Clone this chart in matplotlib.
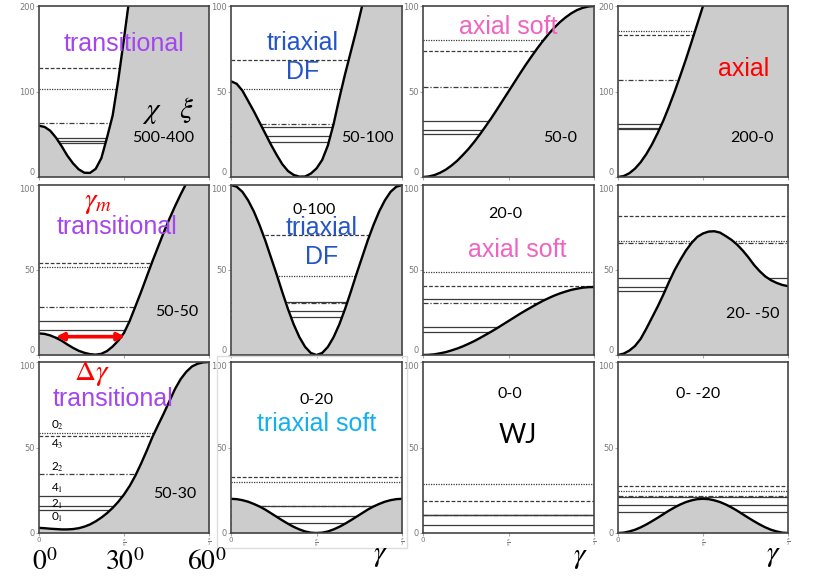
import numpy as np
import matplotlib
matplotlib.use('Agg')
import matplotlib.pyplot as plt
from matplotlib.patches import Rectangle

plt.rcParams['mathtext.fontset'] = 'stix'

####################################################################################################
# potential curves V(gamma), every 2 degrees

gamma_deg = [0, 2, 4, 6, 8, 10, 12, 14, 16, 18, 20, 22, 24, 26, 28, 30,
             32, 34, 36, 38, 40, 42, 44, 46, 48, 50, 52, 54, 56, 58, 60]

v_500_400 = [60, 58.5, 54, 46, 36, 25, 16, 9, 5, 4.8, 9.5, 22, 46, 72, 114, 162,
             212, 265, 320, 378, 440, 500, 560, 620, 680, 740, 800, 860, 920, 980, 1040]
v_50_100 = [56, 54.5, 50.5, 44.5, 38.5, 32, 25.5, 19, 13, 7.5, 3.5, 1.2, 0.2, 0.3, 2, 5,
            10, 18.5, 31, 46, 60, 73, 86, 100, 114, 128, 141, 154, 167, 179, 190]
v_50_0 = [0, 0.3, 1.1, 2.5, 4.3, 6.7, 9.5, 12.9, 16.5, 20.6, 25, 29.7, 34.5, 39.6, 44.8, 50,
          55.2, 60.4, 65.5, 70.3, 75, 79.4, 83.5, 87.2, 90.5, 93.3, 95.7, 97.6, 98.9, 99.7, 100]
v_200_0 = [0, 1.1, 4.4, 9.8, 17.3, 26.8, 38.2, 51.4, 66, 82.4, 100, 118.7, 138, 158.4, 179.2, 200,
           221, 241.6, 262, 281, 300, 317.6, 334, 348.6, 361.8, 373.2, 382.8, 390.2, 395.6, 398.9, 400]

v_50_50 = [12.7, 12.4, 11.5, 10.1, 8.4, 6.2, 4.2, 2.5, 1.3, 0.5, 0.2, 0.7, 2.3, 5, 8.5, 13,
           20, 28.5, 37, 46, 55, 63.5, 72, 80, 87.5, 94.5, 101, 107, 112, 116, 119]
v_0_100 = [100, 99, 96, 91, 84.5, 76.5, 67.5, 57.5, 47.5, 37, 27, 18, 10.5, 4.8, 1.2, 0,
           1.2, 4.8, 10.5, 18, 27, 37, 47.5, 57.5, 67.5, 76.5, 84.5, 91, 96, 99, 100]
v_20_0 = [0, 0.1, 0.4, 1, 1.7, 2.7, 3.8, 5.1, 6.6, 8.2, 10, 11.9, 13.8, 15.8, 17.9, 20,
          22.1, 24.2, 26.2, 28.1, 30, 31.8, 33.4, 34.9, 36.2, 37.3, 38.3, 39, 39.6, 39.9, 40]
v_20_m50 = [0, 0.8, 2.6, 5.3, 9.5, 15.5, 22, 28.5, 35.5, 43, 50, 56, 61.5, 66, 69.5, 71.5,
            72.6, 72.8, 72, 70, 67.8, 65, 61.5, 57.5, 53, 49.3, 46.2, 44, 42.4, 41.2, 40.5]

v_50_30 = [3, 2.8, 2.5, 2.3, 2.1, 2.1, 2.3, 2.8, 3.7, 5, 6.8, 9, 11.6, 14.7, 18.3, 22.5,
           27.5, 33.5, 40.5, 48, 56, 63, 69.8, 77, 84.2, 90, 94.3, 97.4, 99, 99.8, 100]
v_0_20 = [20, 19.8, 19.2, 18.3, 17, 15.5, 13.7, 11.6, 9.5, 7.4, 5.4, 3.6, 2.1, 0.9, 0.2, 0,
          0.2, 0.9, 2.1, 3.6, 5.4, 7.4, 9.5, 11.6, 13.7, 15.5, 17, 18.3, 19.2, 19.8, 20]
v_0_0 = None
v_0_m20 = [0, 0.2, 0.9, 1.9, 3.3, 5, 6.9, 8.9, 11, 13.1, 15, 16.7, 18.1, 19.1, 19.8, 20,
           19.8, 19.1, 18.1, 16.7, 15, 13.1, 11, 8.9, 6.9, 5, 3.3, 1.9, 0.9, 0.2, 0]

# levels in the order 0_1, 2_1, 4_1, 2_2, 4_3, 0_2
level_names = ['0$_1$', '2$_1$', '4$_1$', '2$_2$', '4$_3$', '0$_2$']
lev_500_400 = [40, 42, 46, 63, 128, 103]
lev_50_100 = [20.5, 23.8, 29.5, 31, 68.5, 51.5]
lev_50_0 = [25, 27.7, 33, 52.7, 73.4, 80]
lev_200_0 = [56, 57.5, 62.5, 113.7, 166.4, 170.7]
lev_50_50 = [10.8, 14.7, 20.2, 28.4, 54, 51.6]
lev_0_100 = [22.5, 25.8, 31.3, 30.3, 70.5, 46.4]
lev_20_0 = [13.7, 16.6, 32.9, 30.5, 40.7, 49.1]
lev_20_m50 = [37.8, 39.9, 45.3, 65.8, 81.5, 66.8]
lev_50_30 = [13.7, 15.9, 21.8, 34.5, 56.7, 58.2]
lev_0_20 = [6, 9.9, 15.5, 15.8, 33, 29.7]
lev_0_0 = [4.5, 10.4, 10.6, 10.5, 18.7, 28.7]
lev_0_m20 = [12.3, 16.2, 21.2, 21.6, 27.7, 24.8]

y_max = [[200, 100, 100, 200], [100, 100, 100, 100], [100, 100, 100, 100]]
params = [['500-400', '50-100', '50-0', '200-0'],
          ['50-50', '0-100', '20-0', '20- -50'],
          ['50-30', '0-20', '0-0', '0- -20']]
shapes = [['transitional', 'triaxial\nDF', 'axial soft', 'axial'],
          ['transitional', 'triaxial\nDF', 'axial soft', ''],
          ['transitional', 'triaxial soft', 'WJ', '']]

arrow_gamma = [6, 30.4]
arrow_level = 10.8

####################################################################################################

curves = [[v_500_400, v_50_100, v_50_0, v_200_0],
          [v_50_50, v_0_100, v_20_0, v_20_m50],
          [v_50_30, v_0_20, v_0_0, v_0_m20]]
levels = [[lev_500_400, lev_50_100, lev_50_0, lev_200_0],
          [lev_50_50, lev_0_100, lev_20_0, lev_20_m50],
          [lev_50_30, lev_0_20, lev_0_0, lev_0_m20]]

level_styles = ['-', '-', '-', (0, (4, 1.5, 1, 1.5)), (0, (3, 1.5)), (0, (1, 1))]
# vertical shift of each level name from its line (data units)
name_shift = [-4.3, 1.2, 4.5, 4.1, -4.7, 4.8]
shape_colors = {'transitional': '#a445ee', 'triaxial\nDF': '#2456c8', 'axial soft': '#f063c0',
                'axial': '#ff0000', 'triaxial soft': '#11b0ee', 'WJ': 'black'}

W, H = 830, 580
cols_px = [(39, 209), (231, 402), (423, 594), (618, 788)]
rows_px = [(6, 177), (185, 355), (362, 533)]

# label positions in axes fractions
param_pos = [[(0.73, 0.23), (0.80, 0.23), (0.80, 0.23), (0.79, 0.23)],
             [(0.81, 0.25), (0.485, 0.85), (0.48, 0.83), (0.79, 0.24)],
             [(0.80, 0.23), (0.50, 0.78), (0.51, 0.81), (0.47, 0.81)]]
shape_pos = [[(0.50, 0.78), (0.42, 0.70), (0.50, 0.88), (0.74, 0.63)],
             [(0.46, 0.75), (0.53, 0.66), (0.55, 0.62), None],
             [(0.435, 0.785), (0.50, 0.64), (0.555, 0.57), None]]

figure = plt.figure(figsize=(W / 100, H / 100), dpi=100)
x = np.array(gamma_deg, dtype=float)

for r in range(3):
    for c in range(4):
        x0, x1 = cols_px[c]
        y0, y1 = rows_px[r]
        axe = figure.add_axes([x0 / W, 1 - y1 / H, (x1 - x0) / W, (y1 - y0) / H])
        ymax = y_max[r][c]
        axe.set_xlim(0, 60)
        axe.set_ylim(0, ymax)

        for value, style in zip(levels[r][c], level_styles):
            axe.axhline(value, color='#3a3a3a', lw=0.9, linestyle=style, zorder=1)

        if curves[r][c] is not None:
            v = np.array(curves[r][c], dtype=float)
            axe.fill_between(x, 0, v, color='#cccccc', lw=0, zorder=2)
            axe.plot(x, v, color='black', lw=1.7, zorder=3, solid_joinstyle='round')

        axe.set_yticks([0, ymax / 2, ymax])
        axe.set_yticklabels(['0', '%d' % (ymax / 2), '%d' % ymax])
        axe.set_xticks([0, 30, 60])
        if r == 2:
            axe.set_xticklabels(['0', r'$\frac{\pi}{6}$', r'$\frac{\pi}{3}$'], fontsize=5)
        else:
            axe.set_xticklabels(['', '', ''])
        axe.tick_params(axis='y', labelsize=6)
        axe.tick_params(labelcolor='#7a7a7a', color='#aaaaaa', length=2, pad=1)
        # keep the labels at the seams between rows from running into each other
        ylabels = axe.get_yticklabels()
        if r < 2:
            ylabels[0].set_va('bottom')
        if r > 0:
            ylabels[-1].set_va('top')
        for spine in axe.spines.values():
            spine.set_color('#444444')
            spine.set_linewidth(1.2)
            spine.set_zorder(5)

        px, py = param_pos[r][c]
        axe.text(px, py, params[r][c], transform=axe.transAxes, ha='center', va='center',
                 fontsize=11.5, family='Lato', color='black', zorder=6)
        shape = shapes[r][c]
        if shape:
            sx, sy = shape_pos[r][c]
            if shape == 'WJ':
                axe.text(sx, sy, shape, transform=axe.transAxes, ha='center', va='center',
                         fontsize=19, family='Lato', color='black', zorder=6)
            else:
                axe.text(sx, sy, shape, transform=axe.transAxes, ha='center', va='center',
                         fontsize=18, family='Liberation Sans', color=shape_colors[shape],
                         linespacing=1.25, zorder=6)

        if (r, c) == (0, 0):
            axe.text(0.76, 0.39, r'$\chi\quad\xi$', transform=axe.transAxes, ha='center',
                     va='center', fontsize=21, zorder=6)
        if (r, c) == (1, 0):
            axe.text(0.35, 0.90, r'$\gamma_m$', transform=axe.transAxes, ha='center',
                     va='center', fontsize=21, color='red', zorder=6)
            axe.annotate('', xy=(arrow_gamma[1], arrow_level), xytext=(arrow_gamma[0], arrow_level),
                         arrowprops=dict(arrowstyle='<|-|>', color='red', lw=2.6,
                                         mutation_scale=11, shrinkA=0, shrinkB=0), zorder=7)
        if (r, c) == (2, 0):
            axe.text(0.31, 0.935, r'$\Delta\gamma$', transform=axe.transAxes, ha='center',
                     va='center', fontsize=21, color='red', zorder=6)
            for value, name, shift in zip(levels[r][c], level_names, name_shift):
                axe.text(6.5, value + shift, name, ha='center', va='center',
                         fontsize=8.5, family='Lato', zorder=6)

# light frame from the pasted panel
figure.patches.append(Rectangle((216.7 / W, 1 - 548 / H), 190.6 / W, 192.3 / H,
                                transform=figure.transFigure, fill=False,
                                edgecolor='#dddddd', lw=1))

# degree marks under the first column and gamma under the others
for label, px in [(r'$0^0$', 45), (r'$30^0$', 125), (r'$60^0$', 207)]:
    figure.text(px / W, 1 - 562 / H, label, ha='center', va='center', fontsize=20)
for px, py in [(380, 555), (580, 557), (773, 555)]:
    figure.text(px / W, 1 - py / H, r'$\gamma$', ha='center', va='center', fontsize=21)

figure.savefig('out.png', dpi=100)
